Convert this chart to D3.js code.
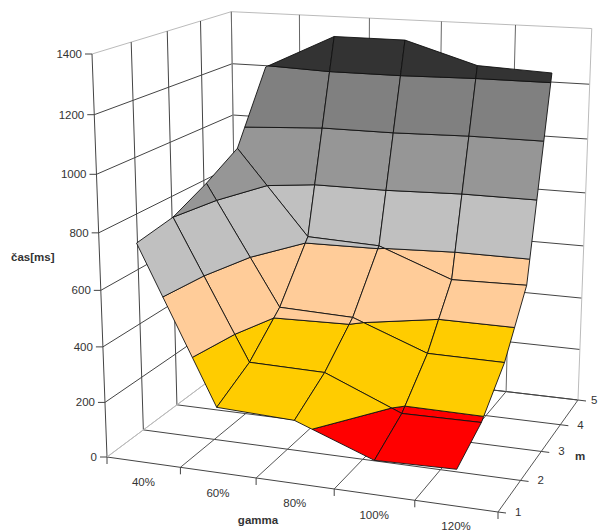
<!DOCTYPE html>
<html><head><meta charset="utf-8"><script src="https://cdn.jsdelivr.net/npm/d3@7"></script>
<style>body{margin:0;background:#fff}svg{display:block}text{font-family:"Liberation Sans",Arial,sans-serif;fill:#333;font-size:11.5px}</style></head><body><script>
const gammaLabels=["40%","60%","80%","100%","120%"]
const mLabels=[1,2,3,4,5]
const zTicks=[0,200,400,600,800,1000,1200,1400]
// cas[ms], one row per m, one value per gamma
const m1=[777,234,223,120,127]
const m2=[800,304,299,185,188]
const m3=[860,424,415,312,310]
const m4=[933,618,608,506,512]
const m5=[1195,1325,1325,1245,1233]
const rows=[m1,m2,m3,m4,m5]
const bandColors=["#ff0000","#ffcc00","#ffcc99","#c0c0c0","#969696","#808080","#333333"]

const width=598,height=531

// camera: floor corners + top of the value axis as seen in the picture
const P0=[107,457],P1=[498,512],P2=[578,400],P3=[237,360],ZT=[92,54]
const det=(a,b)=>a[0]*b[1]-a[1]*b[0]
const dx1=[P1[0]-P2[0],P1[1]-P2[1]],dx2=[P3[0]-P2[0],P3[1]-P2[1]]
const sx=[P0[0]-P1[0]+P2[0]-P3[0],P0[1]-P1[1]+P2[1]-P3[1]]
const p=det(sx,dx2)/det(dx1,dx2),q=det(dx1,sx)/det(dx1,dx2),r=-0.06
const Au=P1[0]*(1+p)-P0[0],Av=P1[1]*(1+p)-P0[1]
const Bu=P3[0]*(1+q)-P0[0],Bv=P3[1]*(1+q)-P0[1]
const Cu=ZT[0]*(1+r)-P0[0],Cv=ZT[1]*(1+r)-P0[1]

const xScale=d3.scaleBand().domain(gammaLabels).range([0,1])
const yScale=d3.scalePoint().domain(mLabels).range([0,1])
const zScale=d3.scaleLinear().domain([0,1400]).range([0,1])

function proj(x,y,z){
    const w=1+p*x+q*y+r*z
    return [(P0[0]+Au*x+Bu*y+Cu*z)/w,(P0[1]+Av*x+Bv*y+Cv*z)/w]
}

const svg=d3.select("body").append("svg").attr("width",width).attr("height",height)

function seg(a,b,color){
    svg.append("line").attr("x1",a[0]).attr("y1",a[1]).attr("x2",b[0]).attr("y2",b[1])
        .attr("stroke",color).attr("stroke-width",1)
}
const gridColor="#444",edgeColor="#bbb"
const xEdges=d3.range(gammaLabels.length+1).map(i=>i/gammaLabels.length)

// walls and floor
zTicks.forEach(t=>{
    const z=zScale(t),c=t===1400?edgeColor:gridColor
    seg(proj(0,0,z),proj(0,1,z),t===0?edgeColor:c)
    seg(proj(0,1,z),proj(1,1,z),c)
})
mLabels.forEach(m=>{
    const y=yScale(m)
    seg(proj(0,y,0),proj(0,y,1),m===5?edgeColor:gridColor)
    seg(proj(0,y,0),proj(1,y,0),gridColor)
})
xEdges.forEach(x=>{
    seg(proj(x,1,0),proj(x,1,1),x===1?edgeColor:"#666")
    seg(proj(x,0,0),proj(x,1,0),x===0?edgeColor:"#555")
})

// ticks and labels
zTicks.forEach(t=>{
    const a=proj(0,0,zScale(t))
    seg([a[0]-7,a[1]],a,gridColor)
    svg.append("text").attr("x",a[0]-10).attr("y",a[1]+4).attr("text-anchor","end").text(t)
})
xEdges.forEach(x=>{
    const a=proj(x,0,0)
    seg(a,[a[0],a[1]+7],gridColor)
})
gammaLabels.forEach(g=>{
    const a=proj(xScale(g)+xScale.bandwidth()/2,0,0)
    svg.append("text").attr("x",a[0]).attr("y",a[1]+24).attr("text-anchor","middle").text(g)
})
mLabels.forEach(m=>{
    const a=proj(1,yScale(m),0)
    seg(a,[a[0]+8,a[1]+1],gridColor)
    // the last label sits right at the page edge
    svg.append("text").attr("x",Math.min(a[0]+17,591)).attr("y",a[1]+4).text(m)
})
svg.append("text").attr("x",11).attr("y",261).attr("font-weight","bold").text("čas[ms]")
svg.append("text").attr("x",258).attr("y",524).attr("text-anchor","middle").attr("font-weight","bold").text("gamma")
svg.append("text").attr("x",580).attr("y",460).attr("text-anchor","middle").attr("font-weight","bold").text("m")

// keep the part of a cell that lies above (sign 1) or below (sign -1) a level
function clip(poly,level,sign){
    const out=[]
    poly.forEach((a,i)=>{
        const b=poly[(i+1)%poly.length]
        const da=(a[2]-level)*sign,db=(b[2]-level)*sign
        if(da>=0) out.push(a)
        if(da*db<0){
            const t=da/(da-db)
            out.push([a[0]+(b[0]-a[0])*t,a[1]+(b[1]-a[1])*t,a[2]+(b[2]-a[2])*t])
        }
    })
    return out
}

const cx=d=>xScale(d)+xScale.bandwidth()/2
const corner=(i,j)=>[cx(gammaLabels[i]),yScale(mLabels[j]),rows[j][i]]
const path=d3.line()

// back rows first, left to right
for(let j=mLabels.length-2;j>=0;j--){
    for(let i=0;i<gammaLabels.length-1;i++){
        const cell=[corner(i,j),corner(i+1,j),corner(i+1,j+1),corner(i,j+1)]
        bandColors.forEach((color,b)=>{
            const lo=zTicks[b],hi=zTicks[b+1]
            const part=clip(clip(cell,lo,1),hi,-1)
            if(part.length<3) return
            svg.append("path")
                .attr("d",path(part.map(d=>proj(d[0],d[1],zScale(d[2]))))+"Z")
                .attr("fill",color)
                .attr("stroke","#111")
                .attr("stroke-width",0.9)
                .attr("stroke-linejoin","round")
        })
    }
}
</script></body></html>
